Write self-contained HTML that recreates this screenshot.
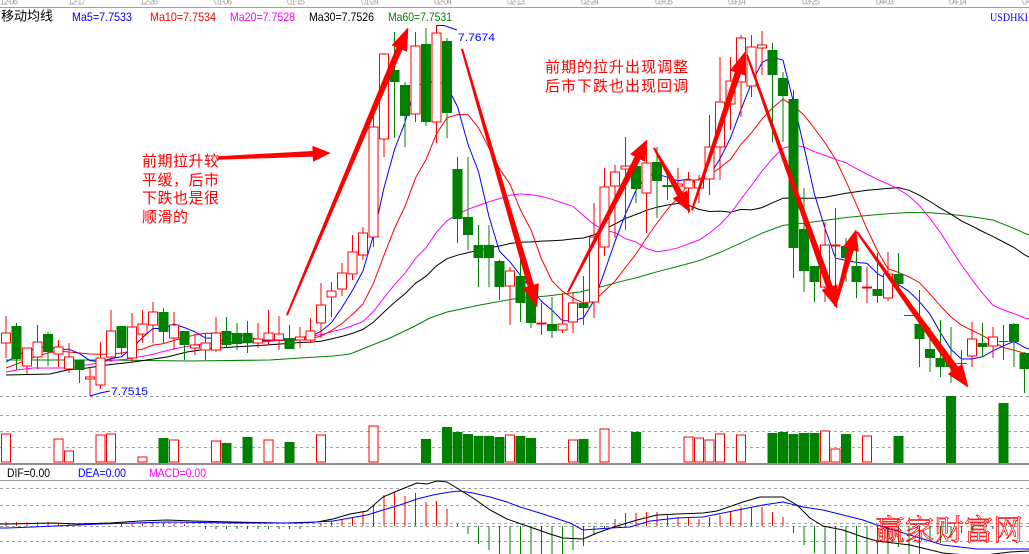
<!DOCTYPE html>
<html><head><meta charset="utf-8"><style>
html,body{margin:0;padding:0;background:#fff;}
svg{display:block;}
</style></head><body>
<svg width="1029" height="554" viewBox="0 0 1029 554" xmlns="http://www.w3.org/2000/svg">
<rect width="1029" height="554" fill="#fff"/>
<!-- top dates -->
<g font-family="Liberation Sans, sans-serif" font-size="9" fill="#a0a0a0">
<text x="0" y="4.5" textLength="18">12-06</text><text x="68" y="4.5" textLength="18">12-17</text><text x="140" y="4.5" textLength="18">12-26</text><text x="214" y="4.5" textLength="18">01-06</text><text x="287" y="4.5" textLength="18">01-15</text><text x="361" y="4.5" textLength="18">01-24</text><text x="434" y="4.5" textLength="18">02-04</text><text x="507" y="4.5" textLength="18">02-13</text><text x="581" y="4.5" textLength="18">02-24</text><text x="655" y="4.5" textLength="18">03-05</text><text x="728" y="4.5" textLength="18">03-14</text><text x="802" y="4.5" textLength="18">03-25</text><text x="876" y="4.5" textLength="18">04-03</text><text x="949" y="4.5" textLength="18">04-14</text><text x="1022" y="4.5">04</text>
</g>
<path d="M0 7.5H1029" stroke="#a0a0a0"/>
<!-- header -->
<text x="1" y="20.5" font-family="Liberation Sans, 'Noto Sans CJK SC', sans-serif" font-size="13" fill="#000">移动均线</text>
<g font-family="Liberation Sans, sans-serif" font-size="12">
<text x="72" y="21" fill="#0000ff" textLength="60" lengthAdjust="spacingAndGlyphs">Ma5=7.7533</text>
<text x="150" y="21" fill="#ff0000" textLength="66" lengthAdjust="spacingAndGlyphs">Ma10=7.7534</text>
<text x="230" y="21" fill="#ff00ff" textLength="65" lengthAdjust="spacingAndGlyphs">Ma20=7.7528</text>
<text x="309" y="21" fill="#000" textLength="65" lengthAdjust="spacingAndGlyphs">Ma30=7.7526</text>
<text x="388" y="21" fill="#008000" textLength="64" lengthAdjust="spacingAndGlyphs">Ma60=7.7531</text>
<text x="990" y="21" fill="#0000ff" textLength="38" lengthAdjust="spacingAndGlyphs" font-family="Liberation Serif, serif">USDHKI</text>
</g>
<!-- grid -->
<path d="M0 396.5H1029M0 415.5H1029M0 431.5H1029M0 447.5H1029M0 488.5H1029M0 505.5H1029M0 523.5H1029M0 526.5H1029M0 541.5H1029" stroke="#a0a0a0" stroke-dasharray="3,3"/>
<rect x="0" y="463" width="1029" height="2" fill="#909090"/>
<path d="M0 480.5H1029" stroke="#a0a0a0"/>

<!-- MA lines -->
<g fill="none" stroke-width="1">
<polyline stroke="#008000" points="6,360 100,360 190,361 270,360 300,358 333,356 350,354 370,346 390,338 413,327 430,318 447,312 480,305 513,299 547,296 580,292 604,286 625.5,280.3 636,277.9 657,271.8 678,266.4 699,260.7 720,252.4 741,242.9 762,233.2 783,225.4 804,223.1 825,220.4 846,217.5 867,215.5 888,213.7 909,212.5 930,212.7 951,214.4 972,216.7 993,220 1014,228.4 1024.5,233.2 1029,235"/>
<polyline stroke="#000" points="6,375 50,374 67,370 87,368 107,365 133,362 167,357 187,352 207,349 233,347 267,345 300,342.5 310.5,342.1 321,341.2 331.5,338.9 342,336.4 352.5,333.4 363,329.4 373.5,322.1 384,312 394.5,302.4 405,293.7 415.5,283.3 426,276.3 436.5,265.8 447,258.7 457.5,255.2 468,252.6 478.5,250.2 489,247.9 499.5,246 510,243.5 520.5,242.2 531,241.9 541.5,241.1 552,240.7 562.5,240.1 573,238.9 583.5,238 594,234.8 604.5,229.4 615,223.9 625.5,218.4 636,214.5 646.5,210.3 657,207.2 667.5,205 678,203.4 688.5,205.2 699,209.4 709.5,211.5 720,211.1 730.5,212.2 741,209.4 751.5,209.9 762,207.6 772.5,202.8 783,198.2 793.5,197.9 804,198.3 814.5,198.1 825,197.3 835.5,195.3 846,193.2 856.5,191.8 867,190.3 877.5,189.4 888,188.4 898.5,187.6 909,190.3 919.5,195.3 930,201.5 940.5,208.2 951,214.2 961.5,220.9 972,226.1 982.5,231.5 993,236.6 1003.5,242 1014,247.4 1024.5,254.8 1029,257"/>
<polyline stroke="#ff00ff" points="6,372 17,370 33,368 67,368 87,365 107,361 127,359 150,355 173,349 195,345 205.5,343.8 216,343.8 226.5,343.1 237,342.9 247.5,342.9 258,342.3 268.5,341.6 279,340.4 289.5,339.4 300,337.4 310.5,336 321,334.7 331.5,331.9 342,329.2 352.5,325.6 363,321.6 373.5,311.4 384,297.8 394.5,284.7 405,273.2 415.5,258.4 426,247.8 436.5,232.2 447,220.7 457.5,214.5 468,209.3 478.5,205.5 489,201.7 499.5,198.6 510,195.3 520.5,193.9 531,194.8 541.5,196.4 552,199.3 562.5,202.9 573,206.4 583.5,215.5 594,224.6 604.5,229.9 615,232.7 625.5,238.7 636,242 646.5,248.5 657,251.9 667.5,250.3 678,247.8 688.5,243.9 699,240 709.5,233 720,224.5 730.5,213.4 741,199.2 751.5,185.4 762,171.1 772.5,158.6 783,148.3 793.5,145.3 804,147 814.5,151.7 825,155.4 835.5,159.3 846,162.8 856.5,168.7 867,174 877.5,179.5 888,184 898.5,189.2 909,196 919.5,205.6 930,218.4 940.5,232.7 951,249.1 961.5,265 972,279.7 982.5,293.3 993,305.3 1003.5,310 1014,313.6 1024.5,317.9 1029,319"/>
<polyline stroke="#ff0000" points="6,368 16.5,364 27,360 37.5,356 48,353 58.5,351 69,352 79.5,353 90,354 100.5,354.3 111,354.1 121.5,353 132,350.9 142.5,349.1 153,345.1 163.5,343.6 174,340.4 184.5,337.9 195,334.7 205.5,333.2 216,333.4 226.5,333.1 237,334.8 247.5,336.7 258,339.4 268.5,339.5 279,340.4 289.5,340.8 300,340 310.5,338.8 321,336 331.5,330.6 342,323.5 352.5,314.4 363,303.8 373.5,283.2 384,255.2 394.5,228.5 405,206.4 415.5,177.9 426,159.6 436.5,133.8 447,117.8 457.5,114.5 468,114.7 478.5,127.8 489,148.2 499.5,168.7 510,184.2 520.5,209.9 531,230 541.5,259 552,280.8 562.5,291.3 573,298.1 583.5,303.1 594,301 604.5,291 615,281.1 625.5,267.4 636,254 646.5,238 657,223 667.5,209.3 678,197.4 688.5,184.6 699,178.9 709.5,174.9 720,167.9 730.5,159.4 741,144.3 751.5,132.7 762,119.1 772.5,107.9 783,99.1 793.5,105.9 804,115 814.5,128.5 825,142.8 835.5,159.2 846,181.2 856.5,204.7 867,228.9 877.5,251 888,268.8 898.5,272.4 909,276.9 919.5,282.6 930,293.9 940.5,306.1 951,317 961.5,325.2 972,330.4 982.5,335.5 993,341.8 1003.5,347.6 1014,350.2 1024.5,353.2 1029,354"/>
<polyline stroke="#0000ff" points="6,362 16.5,356 27,351 37.5,348 48,346.8 58.5,349.6 69,349.2 79.5,353.6 90,360.6 100.5,361.8 111,358.6 121.5,356.8 132,348.2 142.5,337.6 153,328.4 163.5,328.6 174,324 184.5,327.6 195,331.8 205.5,338 216,338.2 226.5,342.2 237,342 247.5,341.6 258,340.8 268.5,340.8 279,338.6 289.5,339.6 300,338.4 310.5,336.8 321,331.2 331.5,322.6 342,307.4 352.5,290.4 363,270.8 373.5,235.2 384,187.8 394.5,149.6 405,122.4 415.5,85 426,84 436.5,79.8 447,86 457.5,106.6 468,144.4 478.5,171.6 489,216.6 499.5,251.4 510,261.8 520.5,275.4 531,288.4 541.5,301.4 552,310.2 562.5,320.8 573,320.8 583.5,317.8 594,300.6 604.5,271.8 615,241.4 625.5,214 636,190.2 646.5,175.4 657,174.2 667.5,177.2 678,180.8 688.5,179 699,182.4 709.5,175.6 720,158.6 730.5,138 741,109.6 751.5,83 762,62.6 772.5,57.2 783,60.2 793.5,102.2 804,147 814.5,194.4 825,228.4 835.5,258.2 846,260.2 856.5,262.4 867,263.4 877.5,273.6 888,279.4 898.5,284.6 909,291.4 919.5,301.8 930,314.2 940.5,332.8 951,349.4 961.5,359 972,359 982.5,356.8 993,350.8 1003.5,345.8 1014,341.4 1024.5,347.4 1029,349"/>
</g>

<!-- green candles -->
<g shape-rendering="crispEdges">
<path stroke="#008000" fill="none" d="M16.5 323V370M48 332V366M79.5 360V383M121.5 326V355M163.5 308V343M184.5 331V360M226.5 317V348M237 323V350M247.5 321V353M289.5 325V349M394.5 32V138M405 82V147M426 28V126M447 38V138M457.5 157V243M468 157V250M478.5 225V287M489 225V287M499.5 260V300M520.5 258V322M531 283V328M552 297V338M583.5 276V325M636 166V203M657 147V218M667.5 175V200M772.5 43V142M783 72V142M793.5 90V278M804 188V292M814.5 266V302M846 238V282M856.5 247V298M877.5 253V303M898.5 253V289M919.5 290V367M930 327V372M940.5 320V377M951 327V383M961.5 350V374M982.5 323V357M1003.5 325V360M1014 323V367M1024.5 352V393"/>
<g fill="#008000">
<rect x="11.5" y="326" width="10" height="33"/><rect x="43" y="334" width="10" height="18"/><rect x="74.5" y="360" width="10" height="10"/><rect x="116.5" y="326" width="10" height="22"/><rect x="158.5" y="312" width="10" height="20"/><rect x="179.5" y="331" width="10" height="14"/><rect x="221.5" y="331" width="10" height="14"/><rect x="232" y="333" width="10" height="11"/><rect x="242.5" y="333" width="10" height="10"/><rect x="284.5" y="338" width="10" height="11"/><rect x="389.5" y="70" width="10" height="12"/><rect x="400" y="85" width="10" height="31"/><rect x="421" y="44" width="10" height="78"/><rect x="442" y="41" width="10" height="72"/><rect x="452.5" y="169" width="10" height="50"/><rect x="463" y="217" width="10" height="18"/><rect x="473.5" y="245" width="10" height="13"/><rect x="484" y="245" width="10" height="13"/><rect x="494.5" y="261" width="10" height="26"/><rect x="515.5" y="276" width="10" height="27"/><rect x="526" y="287" width="10" height="36"/><rect x="547" y="324" width="10" height="7"/><rect x="578.5" y="303" width="10" height="5"/><rect x="631" y="166" width="10" height="23"/><rect x="652" y="162" width="10" height="19"/><rect x="662.5" y="185" width="10" height="2"/><rect x="767.5" y="50" width="10" height="25"/><rect x="778" y="78" width="10" height="18"/><rect x="788.5" y="99" width="10" height="149"/><rect x="799" y="229" width="10" height="42"/><rect x="809.5" y="266" width="10" height="16"/><rect x="841" y="246" width="10" height="12"/><rect x="851.5" y="266" width="10" height="16"/><rect x="872.5" y="289" width="10" height="7"/><rect x="893.5" y="274" width="10" height="10"/><rect x="904" y="315" width="10" height="1"/><rect x="914.5" y="324" width="10" height="15"/><rect x="925" y="349" width="10" height="9"/><rect x="935.5" y="358" width="10" height="9"/><rect x="946" y="363" width="10" height="4"/><rect x="956.5" y="363" width="10" height="1"/><rect x="977.5" y="343" width="10" height="4"/><rect x="998.5" y="341" width="10" height="1"/><rect x="1009" y="324" width="10" height="18"/><rect x="1019.5" y="353" width="10" height="16"/>
</g>
<!-- red candles -->
<path stroke="#ff0000" fill="none" d="M6 316V358M27 348V374M37.5 325V369M58.5 340V367M69 343V373M90 367V396M100.5 342V389M111 310V362M132 313V363M142.5 310V343M153 302V343M174 312V350M195 334V355M205.5 333V360M216 317V352M258 323V348M268.5 310V345M279 316V350M300 327V348M310.5 318V343M321 283V338M331.5 282V317M342 263V296M352.5 235V280M363 227V260M373.5 115V247M384 53V157M415.5 32V122M436.5 25V143M510 267V325M541.5 303V335M562.5 293V333M573 292V333M594 203V318M604.5 168V256M615 165V238M625.5 137V230M646.5 147V233M678 168V202M688.5 172V213M699 175V203M709.5 115V195M720 57V180M730.5 57V130M741 35V117M751.5 35V97M762 31V75M825 222V302M835.5 208V300M867 267V303M888 252V301M972 322V367M993 327V358"/>
<g stroke="#ff0000" fill="#fff">
<rect x="1.5" y="333" width="9" height="10"/><rect x="22.5" y="348" width="9" height="18"/><rect x="33" y="342" width="9" height="15"/><rect x="54" y="347" width="9" height="7"/><rect x="64.5" y="357" width="9" height="12"/><rect x="85.5" y="377" width="9" height="2"/><rect x="96" y="358" width="9" height="27"/><rect x="106.5" y="331" width="9" height="26"/><rect x="127.5" y="327" width="9" height="31"/><rect x="138" y="324" width="9" height="10"/><rect x="148.5" y="312" width="9" height="13"/><rect x="169.5" y="325" width="9" height="13"/><rect x="190.5" y="345" width="9" height="3"/><rect x="201" y="343" width="9" height="7"/><rect x="211.5" y="333" width="9" height="17"/><rect x="253.5" y="339" width="9" height="4"/><rect x="264" y="333" width="9" height="7"/><rect x="274.5" y="334" width="9" height="6"/><rect x="295.5" y="337" width="9" height="3"/><rect x="306" y="331" width="9" height="9"/><rect x="316.5" y="305" width="9" height="18"/><rect x="327" y="291" width="9" height="6"/><rect x="337.5" y="273" width="9" height="16"/><rect x="348" y="252" width="9" height="22"/><rect x="358.5" y="233" width="9" height="22"/><rect x="369" y="127" width="9" height="110"/><rect x="379.5" y="54" width="9" height="85"/><rect x="411" y="46" width="9" height="68"/><rect x="432" y="33" width="9" height="89"/><rect x="505.5" y="271" width="9" height="15"/><rect x="537" y="323" width="9" height="1"/><rect x="558" y="324" width="9" height="6"/><rect x="568.5" y="303" width="9" height="19"/><rect x="589.5" y="237" width="9" height="65"/><rect x="600" y="187" width="9" height="60"/><rect x="610.5" y="172" width="9" height="14"/><rect x="621" y="166" width="9" height="3"/><rect x="642" y="163" width="9" height="30"/><rect x="673.5" y="184" width="9" height="2"/><rect x="684" y="180" width="9" height="8"/><rect x="694.5" y="180" width="9" height="8"/><rect x="705" y="147" width="9" height="32"/><rect x="715.5" y="102" width="9" height="45"/><rect x="726" y="81" width="9" height="23"/><rect x="736.5" y="38" width="9" height="44"/><rect x="747" y="47" width="9" height="39"/><rect x="757.5" y="45" width="9" height="3"/><rect x="820.5" y="245" width="9" height="42"/><rect x="831" y="245" width="9" height="1"/><rect x="862.5" y="287" width="9" height="1"/><rect x="883.5" y="274" width="9" height="24"/><rect x="967.5" y="339" width="9" height="17"/><rect x="988.5" y="337" width="9" height="9"/>
</g>

<!-- volume -->
<g fill="#008000">
<rect x="158.5" y="438" width="10" height="25"/><rect x="221.5" y="443" width="10" height="20"/><rect x="242.5" y="437" width="10" height="26"/><rect x="284.5" y="442" width="10" height="21"/><rect x="421" y="439" width="10" height="24"/><rect x="442" y="427" width="10" height="36"/><rect x="452.5" y="432" width="10" height="31"/><rect x="463" y="434" width="10" height="29"/><rect x="473.5" y="436" width="10" height="27"/><rect x="484" y="436" width="10" height="27"/><rect x="494.5" y="437" width="10" height="26"/><rect x="515.5" y="436" width="10" height="27"/><rect x="526" y="438" width="10" height="25"/><rect x="578.5" y="439" width="10" height="24"/><rect x="631" y="432" width="10" height="31"/><rect x="767.5" y="433" width="10" height="30"/><rect x="778" y="432" width="10" height="31"/><rect x="788.5" y="434" width="10" height="29"/><rect x="799" y="433" width="10" height="30"/><rect x="809.5" y="433" width="10" height="30"/><rect x="841" y="434" width="10" height="29"/><rect x="893.5" y="436" width="10" height="27"/><rect x="946" y="396" width="10" height="67"/><rect x="998.5" y="403" width="10" height="60"/>
</g>
<g stroke="#ff0000" fill="#fff">
<rect x="1.5" y="434" width="9" height="28"/><rect x="54" y="439" width="9" height="23"/><rect x="64.5" y="451" width="9" height="11"/><rect x="96" y="435" width="9" height="27"/><rect x="106.5" y="434" width="9" height="28"/><rect x="138" y="457" width="9" height="5"/><rect x="169.5" y="440" width="9" height="22"/><rect x="211.5" y="441" width="9" height="21"/><rect x="264" y="440" width="9" height="22"/><rect x="316.5" y="435" width="9" height="27"/><rect x="369" y="426" width="9" height="36"/><rect x="505.5" y="435" width="9" height="27"/><rect x="568.5" y="440" width="9" height="22"/><rect x="600" y="429" width="9" height="33"/><rect x="684" y="437" width="9" height="25"/><rect x="694.5" y="438" width="9" height="24"/><rect x="705" y="440" width="9" height="22"/><rect x="715.5" y="434" width="9" height="28"/><rect x="736.5" y="435" width="9" height="27"/><rect x="820.5" y="431" width="9" height="31"/><rect x="831" y="449" width="9" height="13"/><rect x="862.5" y="436" width="9" height="26"/>
</g>

<!-- MACD histogram -->
<path stroke="#ff0000" fill="none" d="M6 526V522M16.5 526V522M27 526V522M37.5 526V522M48 526V522M58.5 526V523M69 526V523M121.5 526V524M132 526V524M142.5 526V523M153 526V523M163.5 526V523M174 526V524M184.5 526V524M321 526V523M331.5 526V521M342 526V519M352.5 526V517M363 526V512M373.5 526V505M384 526V495M394.5 526V492M405 526V496M415.5 526V493M426 526V502M436.5 526V501M447 526V509M457.5 526V524M615 526V519M625.5 526V513M636 526V513M646.5 526V512M657 526V512M667.5 526V515M678 526V517M688.5 526V518M699 526V519M709.5 526V517M720 526V515M730.5 526V512M741 526V507M751.5 526V507M762 526V507M772.5 526V512M783 526V517"/>
<path stroke="#008000" fill="none" d="M205.5 526V529M216 526V529M226.5 526V529M237 526V529M247.5 526V529M258 526V529M268.5 526V529M279 526V529M289.5 526V529M300 526V529M468 526V534M478.5 526V544M489 526V550M499.5 526V554M510 526V554M520.5 526V554M531 526V554M541.5 526V554M552 526V554M562.5 526V554M573 526V550M583.5 526V546M594 526V535M604.5 526V528M793.5 526V533M804 526V545M814.5 526V553M825 526V554M835.5 526V554M846 526V554M856.5 526V554M867 526V554M877.5 526V554M888 526V554M898.5 526V547M909 526V554M919.5 526V554M930 526V540M940.5 526V543M951 526V538M961.5 526V533M972 526V530M982.5 526V527M993 526V529"/>
</g>
<polyline fill="none" stroke="#000" points="0,524 7,524 53,523 77,524 110,523 140,521 167,520 193,521 233,522 283,523 317,522 333,519 350,514 367,511 383,497 397,491 417,483 427,484 437,481 447,482 460,490 473,498 490,510 507,519 530,527 550,534 563,538 583,539 597,533 617,526 637,520 657,515 677,514 703,513 717,511 743,502 760,497 783,497 797,505 810,518 823,526 843,530 863,537 877,541 910,545 943,553 977,556 1010,552 1029,551"/>
<polyline fill="none" stroke="#0000ff" points="0,528 7,528 33,527 100,524 167,522 233,523 300,523 333,521 350,518 367,515 383,510 400,505 417,499 433,495 450,492 460,491 473,493 490,497 507,502 520,507 543,514 570,523 583,530 610,528 630,527 650,521 677,518 703,517 723,513 743,509 763,505 783,502 803,507 823,510 843,515 863,520 877,525 910,535 943,545 977,549 1029,549"/>

<!-- MACD labels -->
<g font-family="Liberation Sans, sans-serif" font-size="12">
<text x="7" y="477" fill="#000" textLength="43" lengthAdjust="spacingAndGlyphs">DIF=0.00</text>
<text x="78" y="477" fill="#0000ff" textLength="48" lengthAdjust="spacingAndGlyphs">DEA=0.00</text>
<text x="149" y="477" fill="#ff00ff" textLength="57" lengthAdjust="spacingAndGlyphs">MACD=0.00</text>
</g>

<!-- high/low markers -->
<polyline fill="none" stroke="#0000ff" points="437,25.5 444,25.5 457,30"/>
<text x="458" y="41" font-family="Liberation Sans, sans-serif" font-size="11" fill="#0000ff" textLength="37" lengthAdjust="spacingAndGlyphs">7.7674</text>
<polyline fill="none" stroke="#0000ff" points="90,396 100,393 110,391"/>
<text x="111" y="395" font-family="Liberation Sans, sans-serif" font-size="11" fill="#0000ff" textLength="37" lengthAdjust="spacingAndGlyphs">7.7515</text>

<!-- arrows -->
<g fill="#ff0000" stroke="#ff0000" stroke-width="0.6" stroke-linejoin="round">
<polygon points="218,159.5 313.1,156.3 313.3,161.3 330,153 312.7,146.3 312.9,151.3 218,156.5"/>
<polygon points="287.6,315.3 402.2,49.4 406.8,51.4 408,28 392.1,45.2 396.7,47.1 286.4,314.7"/>
<polygon points="461.3,49.2 528,286.7 523.2,288.1 537,307 538.5,283.7 533.7,285 462.7,48.8"/>
<polygon points="568.6,292.3 640.4,159.1 644.9,161.4 647,140 630.7,154.1 635.1,156.4 567.4,291.7"/>
<polygon points="653.4,148.3 677.6,196.1 673.2,198.5 690,212 687.2,190.7 682.8,193.1 654.6,147.7"/>
<polygon points="692.7,210.2 740.8,73.8 745.6,75.4 745,52 730.4,70.3 735.2,71.9 691.3,209.8"/>
<polygon points="746.3,55.2 826.8,288.3 822.1,290 837,308 837.2,284.6 832.5,286.3 747.7,54.8"/>
<polygon points="836,306.3 853.6,250.1 858.4,251.4 856,230 843,247.2 847.8,248.5 834,305.7"/>
<polygon points="856.4,232.4 952.3,371.2 948.3,374.1 968,387 962.1,364.2 958,367.1 857.6,231.6"/>
</g>

<!-- annotations -->
<g font-family="Liberation Sans, 'Noto Sans CJK SC', sans-serif" font-size="15" fill="#ff0000">
<text x="142" y="166" textLength="77">前期拉升较</text>
<text x="142" y="185" textLength="77">平缓，后市</text>
<text x="142" y="203" textLength="77">下跌也是很</text>
<text x="142" y="222" textLength="46">顺滑的</text>
<text x="545" y="72" textLength="143">前期的拉升出现调整</text>
<text x="545" y="91" textLength="143">后市下跌也出现回调</text>
</g>

<!-- watermark -->
<text x="875" y="540" font-family="'Noto Serif CJK SC', 'Noto Sans CJK SC', serif" font-size="29" fill="none" stroke="#ff0000" stroke-width="0.7" textLength="148" lengthAdjust="spacingAndGlyphs">赢家财富网</text>
</svg>
</body></html>
